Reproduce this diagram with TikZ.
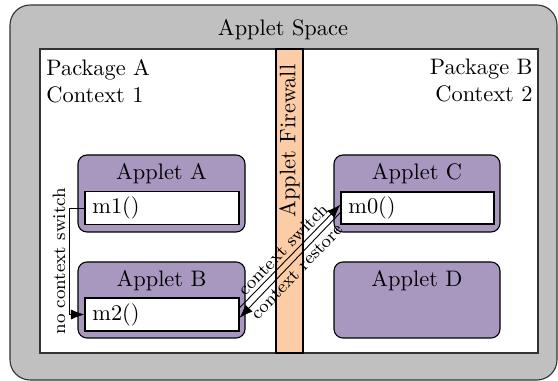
\documentclass[tikz,border=0pt]{standalone}
\usetikzlibrary{arrows.meta,calc}
\definecolor{spacegray}{RGB}{192,192,192}
\definecolor{wallpeach}{RGB}{251,204,166}
\definecolor{appletlilac}{RGB}{168,152,192}
\tikzset{
  space/.style={draw=black!80, fill=spacegray, rounded corners=9pt, line width=0.5pt},
  pkg/.style={draw=black!80, fill=white, line width=0.5pt},
  wall/.style={draw=black, fill=wallpeach, line width=0.5pt},
  applet/.style={draw=black, fill=appletlilac, rounded corners=4pt, line width=0.5pt},
  method/.style={draw=black, fill=white, line width=0.5pt, inner sep=0pt},
  conn/.style={-{Latex[length=6pt,width=4.5pt]}, line width=0.4pt},
  lbl/.style={font=\footnotesize, inner sep=1.5pt}
}
\begin{document}
\begin{tikzpicture}[x=0.4464pt, y=-0.4464pt]
  \useasboundingbox (0,0) rectangle (558,381);
  \begin{scope}
    \clip (0,0) rectangle (558,381);
    % applet space
    \draw[space] (10,5) rectangle (557,380);
  \end{scope}
  \node (spacetitle) at (283,30) {Applet Space};
  % packages
  \draw[pkg] (40,49) rectangle (538,353);
  \draw[wall] (276,49) rectangle (303,353);
  \node[rotate=90] (fw) at (289.5,141) {Applet Firewall};
  \node[anchor=north west, align=left, inner sep=0pt] (pkga) at (46,59)
    {Package A\\Context 1};
  \node[anchor=north east, align=right, inner sep=0pt] (pkgb) at (533,59)
    {Package B\\Context 2};
  % applets
  \draw[applet] (78,155) rectangle (245,232);
  \node (ta) at (161.5,174) {Applet A};
  \draw[applet] (78,262) rectangle (245,338);
  \node (tb) at (161.5,281) {Applet B};
  \draw[applet] (334,155) rectangle (500,232);
  \node (tc) at (417,174) {Applet C};
  \draw[applet] (334,262) rectangle (500,338);
  \node (td) at (417,281) {Applet D};
  % methods
  \node[method, minimum width=154*0.4464pt, minimum height=33*0.4464pt] (m1) at (162,208) {};
  \node[anchor=west] at (m1.west) {m1()};
  \node[method, minimum width=154*0.4464pt, minimum height=33*0.4464pt] (m2) at (162,314.5) {};
  \node[anchor=west] at (m2.west) {m2()};
  \node[method, minimum width=153*0.4464pt, minimum height=32*0.4464pt] (m0) at (417.5,208) {};
  \node[anchor=west] at (m0.west) {m0()};
  % calls
  \coordinate (bend) at (69,0);
  \draw[conn] (m1.west) -- (m1.west -| bend) -- (m2.west -| bend)
    node[midway, rotate=90, above, lbl] {no context switch} -- (m2.west);
  \draw[conn] ([yshift=3pt]m2.east) -- ([yshift=1.5pt]m0.west)
    node[midway, sloped, above, lbl] {context switch};
  \draw[conn] ([yshift=-2pt]m0.west) -- ([yshift=-1.5pt]m2.east)
    node[midway, sloped, below, lbl] {context restore};
\end{tikzpicture}
\end{document}
